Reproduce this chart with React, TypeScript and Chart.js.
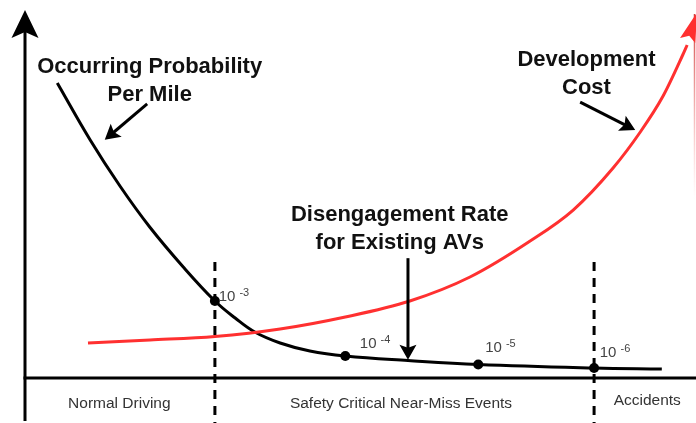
import { useEffect, useRef } from "react";
import { Chart, registerables } from "chart.js";
Chart.register(...registerables);

// conceptual data units (x: progression of event severity, y: relative magnitude)
const blackX = [0.51, 1.03, 1.5, 1.97, 2.5, 3.0, 3.32, 3.63, 4.03, 4.5, 5.06, 6.05, 7.16, 8.99, 10.06];
const blackY = [78.04, 62.96, 50.79, 39.95, 29.37, 20.37, 15.87, 12.17, 9.26, 7.14, 5.82, 4.63, 3.57, 2.65, 2.38];
const redX = [0.995, 1.975, 3.0, 4.03, 5.06, 6.08, 7.03, 7.98, 8.66, 9.29, 9.72, 10.08, 10.39, 10.46];
const redY = [9.26, 10.05, 10.98, 12.96, 16.14, 20.37, 26.72, 36.24, 44.44, 55.56, 65.08, 74.6, 85.45, 88.1];
const redTip = [10.62, 96.8];
const markerX = [3.0, 5.06, 7.16, 8.99];
const markerY = [20.37, 5.82, 3.57, 2.65];
const markerExp = ["-3", "-4", "-5", "-6"];
const markerLabelX = [3.06, 5.29, 7.27, 9.08];
const markerLabelY = [20.4, 7.9, 6.9, 5.6];
const boundaryX = [3, 8.99];
const regionNames = ["Normal Driving", "Safety Critical Near-Miss Events", "Accidents"];
const regionX = [1.49, 5.94, 9.83];
const regionY = [-7.94, -7.94, -7.14];
const titleLines = [
  ["Occurring Probability", "Per Mile"],
  ["Development", "Cost"],
  ["Disengagement Rate", "for Existing AVs"],
];
const titleX = [1.97, 8.87, 5.92];
const titleY = [80.7, 82.5, 41.5];
const arrowFrom = [[1.93, 72.5], [8.77, 73.0], [6.05, 31.7]];
const arrowTo = [[1.26, 63.0], [9.64, 65.6], [6.05, 4.8]];

const RED = "#ff3030";

function arrowHead(ctx: CanvasRenderingContext2D, tx: number, ty: number, ang: number, len: number, hw: number, notch: number) {
  const cos = Math.cos(ang), sin = Math.sin(ang);
  const bx = tx - cos * len, by = ty - sin * len;
  const nx = tx - cos * (len - notch), ny = ty - sin * (len - notch);
  ctx.beginPath();
  ctx.moveTo(tx, ty);
  ctx.lineTo(bx - sin * hw, by + cos * hw);
  ctx.lineTo(nx, ny);
  ctx.lineTo(bx + sin * hw, by - cos * hw);
  ctx.closePath();
  ctx.fill();
}

const decor = {
  id: "decor",
  beforeDatasetsDraw(chart: any) {
    const ctx = chart.ctx as CanvasRenderingContext2D;
    const xs = chart.scales.x, ys = chart.scales.y;
    const H = chart.height, W = chart.width;
    ctx.save();
    // dashed boundaries
    ctx.strokeStyle = "#000";
    ctx.lineWidth = 3;
    ctx.setLineDash([9, 7]);
    boundaryX.forEach((b) => {
      const x = xs.getPixelForValue(b);
      ctx.beginPath();
      ctx.moveTo(x, ys.getPixelForValue(30.7));
      ctx.lineTo(x, H);
      ctx.stroke();
    });
    ctx.setLineDash([]);
    // axes
    const x0 = xs.getPixelForValue(0), y0 = ys.getPixelForValue(0);
    ctx.lineWidth = 3;
    ctx.beginPath();
    ctx.moveTo(x0, 30);
    ctx.lineTo(x0, H - 2);
    ctx.stroke();
    ctx.beginPath();
    ctx.moveTo(x0 - 1.5, y0);
    ctx.lineTo(W, y0);
    ctx.stroke();
    ctx.fillStyle = "#000";
    arrowHead(ctx, x0, 10, -Math.PI / 2, 28, 13.5, 6);
    // faint right edge line
    const g = ctx.createLinearGradient(0, 12, 0, 200);
    g.addColorStop(0, "rgba(200,40,40,0.9)");
    g.addColorStop(1, "rgba(255,120,120,0)");
    ctx.strokeStyle = g;
    ctx.lineWidth = 1.5;
    ctx.beginPath();
    ctx.moveTo(W - 1.5, 14);
    ctx.lineTo(W - 1.5, 200);
    ctx.stroke();
    ctx.restore();
  },
  afterDatasetsDraw(chart: any) {
    const ctx = chart.ctx as CanvasRenderingContext2D;
    const xs = chart.scales.x, ys = chart.scales.y;
    const P = (x: number, y: number) => [xs.getPixelForValue(x), ys.getPixelForValue(y)];
    ctx.save();
    // red arrow head
    {
      const [bx, by] = P(redX[redX.length - 2], redY[redY.length - 2]);
      const [tx, ty] = P(redTip[0], redTip[1]);
      ctx.fillStyle = RED;
      arrowHead(ctx, tx, ty, Math.atan2(ty - by, tx - bx), 30, 8, 5);
    }
    // annotation arrows
    ctx.strokeStyle = "#000";
    ctx.fillStyle = "#000";
    ctx.lineWidth = 3;
    arrowFrom.forEach((f, i) => {
      const [fx, fy] = P(f[0], f[1]);
      const [tx, ty] = P(arrowTo[i][0], arrowTo[i][1]);
      const ang = Math.atan2(ty - fy, tx - fx);
      const len = 15;
      ctx.beginPath();
      ctx.moveTo(fx, fy);
      ctx.lineTo(tx - Math.cos(ang) * (len - 4), ty - Math.sin(ang) * (len - 4));
      ctx.stroke();
      arrowHead(ctx, tx, ty, ang, len, 8.5, 3);
    });
    // titles
    ctx.font = "bold 22px 'Liberation Sans', Arial, sans-serif";
    ctx.textAlign = "center";
    ctx.textBaseline = "alphabetic";
    ctx.fillStyle = "#111";
    titleLines.forEach((lines, i) => {
      const [cx, cy] = P(titleX[i], titleY[i]);
      lines.forEach((t, k) => ctx.fillText(t, cx, cy + k * 28));
    });
    // region labels
    ctx.font = "15.5px 'Liberation Sans', Arial, sans-serif";
    ctx.fillStyle = "#333";
    regionNames.forEach((t, i) => {
      const [cx, cy] = P(regionX[i], regionY[i]);
      ctx.fillText(t, cx, cy);
    });
    // marker labels 10^-n
    ctx.textAlign = "left";
    ctx.fillStyle = "#444";
    markerExp.forEach((e, i) => {
      const [lx, ly] = P(markerLabelX[i], markerLabelY[i]);
      ctx.font = "15px 'Liberation Sans', Arial, sans-serif";
      ctx.fillText("10", lx, ly);
      const w = ctx.measureText("10").width;
      ctx.font = "11px 'Liberation Sans', Arial, sans-serif";
      ctx.fillText(e, lx + w + 4, ly - 5);
    });
    ctx.restore();
  },
};

export default function App() {
  const ref = useRef<HTMLCanvasElement>(null);
  useEffect(() => {
    document.body.style.margin = "0";
    const chart = new Chart(ref.current!, {
      type: "line",
      data: {
        datasets: [
          {
            data: redX.map((x, i) => ({ x, y: redY[i] })),
            borderColor: RED,
            borderWidth: 3,
            pointRadius: 0,
            cubicInterpolationMode: "monotone",
            clip: false,
          } as any,
          {
            data: blackX.map((x, i) => ({ x, y: blackY[i] })),
            borderColor: "#000",
            borderWidth: 3,
            pointRadius: 0,
            tension: 0.4,
            clip: false,
          } as any,
          {
            data: markerX.map((x, i) => ({ x, y: markerY[i] })),
            showLine: false,
            pointRadius: 5,
            pointBackgroundColor: "#000",
            pointBorderColor: "#000",
            pointBorderWidth: 0,
            clip: false,
          } as any,
        ],
      },
      options: {
        animation: false,
        responsive: false,
        layout: { autoPadding: false, padding: { left: 25, right: 0, top: 0, bottom: 45 } },
        plugins: { legend: { display: false }, tooltip: { enabled: false } },
        events: [],
        scales: {
          x: { type: "linear", min: 0, max: 10.6, display: false },
          y: { type: "linear", min: 0, max: 100, display: false },
        },
      },
      plugins: [decor],
    });
    return () => chart.destroy();
  }, []);
  return (
    <div style={{ width: 696, height: 423, background: "#fff" }}>
      <canvas ref={ref} width={696} height={423} style={{ display: "block" }} />
    </div>
  );
}
